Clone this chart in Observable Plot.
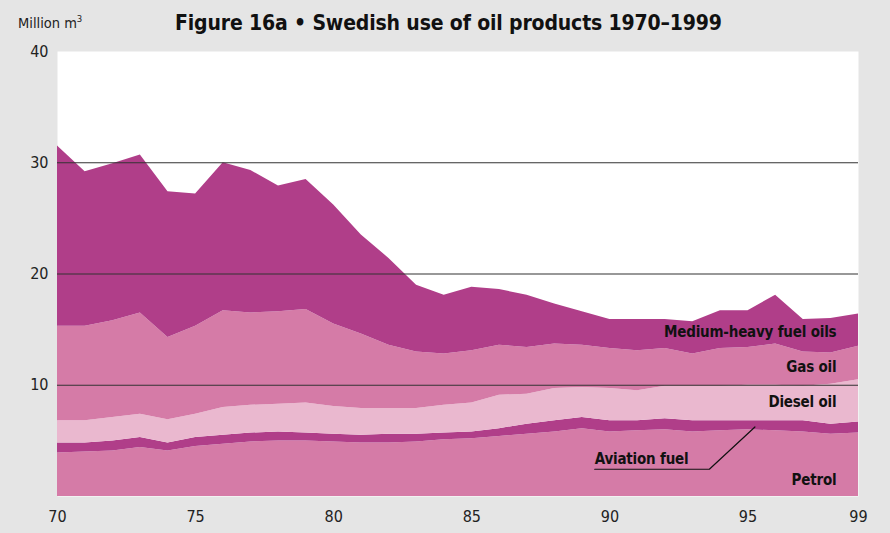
<!DOCTYPE html>
<html>
<head>
<meta charset="utf-8">
<script src="https://cdn.jsdelivr.net/npm/d3@7"></script>
<script src="https://cdn.jsdelivr.net/npm/@observablehq/plot@0.6"></script>
<style>
  html, body { margin: 0; padding: 0; background: #e5e5e5; }
  #wrap { position: relative; width: 890px; height: 533px; overflow: hidden;
    font-family: "DejaVu Sans Condensed", "DejaVu Sans", sans-serif; font-stretch: condensed; }
  #title { position: absolute; left: 175px; top: 11px; font-size: 21px; font-weight: bold; color: #111; white-space: nowrap; letter-spacing: -0.15px; }
  #unit { position: absolute; left: 18px; top: 13px; font-size: 14.5px; color: #222; white-space: nowrap; }
  #unit sup { font-size: 9.5px; }
  svg { position: absolute; left: 0; top: 0; }
  svg .lbl text { letter-spacing: -0.2px; }
</style>
</head>
<body>
<div id="wrap">
  <div id="unit">Million m<sup>3</sup></div>
  <div id="title">Figure 16a • Swedish use of oil products 1970–1999</div>
</div>
<script>
const years = d3.range(1970, 2000);
const seriesNames = ["Petrol", "Aviation fuel", "Diesel oil", "Gas oil", "Medium-heavy fuel oils"];
const petrol = [3.9,4.0,4.1,4.4,4.1,4.5,4.7,4.9,5.0,5.0,4.9,4.8,4.8,4.9,5.1,5.2,5.4,5.6,5.8,6.1,5.8,5.9,6.0,5.8,5.9,6.0,5.9,5.8,5.6,5.7];
const aviation = [0.9,0.8,0.9,0.9,0.7,0.8,0.8,0.8,0.8,0.7,0.7,0.7,0.8,0.7,0.6,0.6,0.7,0.9,1.0,1.0,1.0,0.9,1.0,1.0,0.9,0.8,0.9,1.0,0.9,1.0];
const diesel = [2.0,2.0,2.1,2.1,2.1,2.1,2.5,2.5,2.5,2.7,2.5,2.4,2.3,2.3,2.5,2.6,3.0,2.7,2.9,2.7,2.9,2.7,2.9,3.1,3.1,3.2,3.2,3.1,3.6,3.8];
const gasOil = [8.5,8.5,8.7,9.1,7.4,7.9,8.7,8.3,8.3,8.4,7.4,6.7,5.7,5.1,4.6,4.7,4.5,4.2,4.0,3.8,3.6,3.6,3.4,2.9,3.4,3.4,3.7,3.1,2.8,3.0];
const mediumHeavy = [16.2,13.9,14.1,14.2,13.1,11.9,13.3,12.8,11.3,11.7,10.7,8.9,7.8,6.0,5.3,5.7,5.0,4.7,3.6,3.0,2.6,2.8,2.6,2.9,3.4,3.3,4.4,2.9,3.1,2.9];
const seriesValues = [petrol, aviation, diesel, gasOil, mediumHeavy];
const seriesColors = ["#d57ba7", "#b03e89", "#eab8cf", "#d57ba7", "#b03e89"];

const yTicks = [10, 20, 30, 40];
const gridValues = [10, 20, 30];
const xTicks = [1970, 1975, 1980, 1985, 1990, 1995, 1999];

// Labels (data coordinates)
const labelNames = ["Medium-heavy fuel oils", "Gas oil", "Diesel oil", "Petrol"];
const labelX = [1998.2, 1998.2, 1998.2, 1998.2];
const labelY = [14.8, 11.6, 8.45, 1.5];
const aviationLabel = {text: "Aviation fuel", x: 1989.45, y: 3.35};
const leaderX = [1989.45, 1993.6, 1995.25];
const leaderY = [2.45, 2.45, 6.25];

const data = [];
seriesNames.forEach((s, i) => years.forEach((yr, j) => data.push({series: s, year: yr, value: seriesValues[i][j]})));
const labels = labelNames.map((t, i) => ({text: t, x: labelX[i], y: labelY[i]}));
const leader = leaderX.map((x, i) => ({x, y: leaderY[i]}));

const font = "'DejaVu Sans Condensed', 'DejaVu Sans', sans-serif";
const chart = Plot.plot({
  width: 890,
  height: 533,
  marginTop: 51,
  marginBottom: 37,
  marginLeft: 57,
  marginRight: 32,
  style: {background: "transparent", fontFamily: font, fontStretch: "condensed", color: "#222"},
  x: {domain: [1970, 1999], ticks: xTicks, tickFormat: d => String(d).slice(2), tickSize: 0, tickPadding: 14, label: null},
  y: {domain: [0, 40], ticks: yTicks, tickSize: 0, tickPadding: 9, label: null},
  color: {domain: seriesNames, range: seriesColors},
  marks: [
    Plot.frame({fill: "white", stroke: null}),
    Plot.areaY(data, {x: "year", y: "value", z: "series", fill: "series", order: seriesNames, fillOpacity: 1}),
    Plot.ruleY(gridValues, {stroke: "#333", strokeWidth: 1.1}),
    Plot.text(labels, {x: "x", y: "y", text: "text", textAnchor: "end", fontSize: 15, fontWeight: "bold", fill: "#111", className: "lbl"}),
    Plot.text([aviationLabel], {x: "x", y: "y", text: "text", textAnchor: "start", fontSize: 15, fontWeight: "bold", fill: "#111", className: "lbl"}),
    Plot.line(leader, {x: "x", y: "y", stroke: "#111", strokeWidth: 1.2}),
    Plot.axisX({ticks: xTicks, tickFormat: d => String(d).slice(2), tickSize: 0, tickPadding: 14, fontSize: 16, label: null}),
    Plot.axisY({ticks: yTicks, tickSize: 0, tickPadding: 9, fontSize: 16, label: null})
  ]
});
document.getElementById("wrap").prepend(chart);
</script>
</body>
</html>
